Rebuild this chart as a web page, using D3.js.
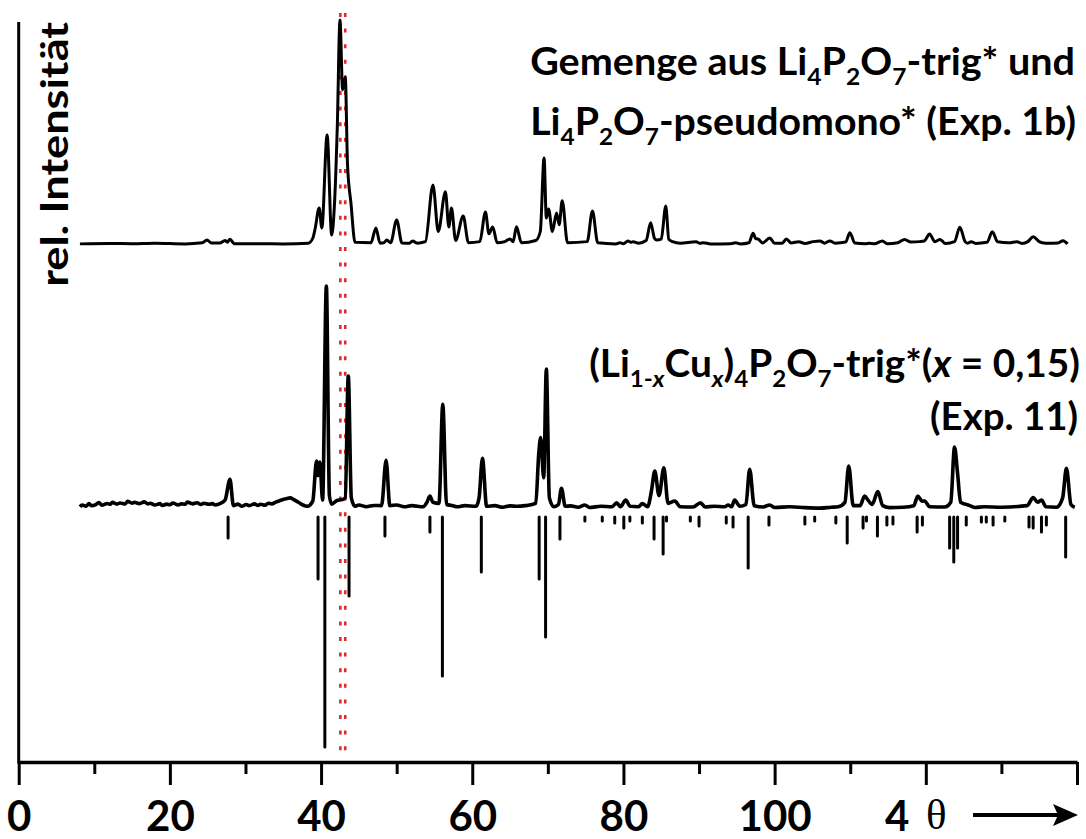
<!DOCTYPE html>
<html>
<head>
<meta charset="utf-8">
<script src="https://cdn.jsdelivr.net/npm/d3@7/dist/d3.min.js"></script>
<style>
  body { margin: 0; background: #fff; }
  text { white-space: pre; }
</style>
</head>
<body>
<script>
// upper pattern: Gemenge Li4P2O7-trig* + pseudomono* (Exp. 1b), [4 theta, rel. intensity]
var upperPattern = [
  [8.1,0.5],[12,0.7],[15,0.6],[18,0.8],[22,0.5],[24.3,1.0],[24.9,2.2],[25.5,0.9],[26.6,0.9],[27.3,2.0],[27.6,1.2],[27.95,2.6],[28.5,0.6],
  [32,0.6],[35,0.5],[38.3,0.8],[38.9,3],[39.2,7],[39.75,16.4],[40.1,7.6],[40.8,48.9],[41.4,4.4],[41.8,20],[42.15,53],[42.5,100],
  [42.85,69],[43.2,74.7],[43.5,35.6],[43.95,18.7],[44.5,1.2],[46.6,1.0],[47.25,7.6],[47.8,0.8],[48.3,1.0],[48.7,2.2],
  [49.2,1.0],[50.0,11.1],[50.7,0.9],[51.7,0.8],[52.1,1.8],[52.7,0.8],[53.8,1.5],[54.8,26.7],[55.5,6],[56.45,23.7],
  [56.9,8],[57.25,16.4],[57.8,2],[58.8,12.9],[59.5,1.0],[61,1.5],[61.75,14.7],[62.2,5],[62.7,8],[63.3,1.0],[64.3,1.5],
  [65.0,2.7],[65.4,1.5],[65.85,8.1],[66.5,1.0],[68.4,2.0],[69.0,6],[69.5,38.7],[69.8,12],[70.1,16],[70.6,6],[71.15,14.2],
  [71.5,9],[71.9,19.7],[72.6,1.0],[75.2,1.5],[75.9,15.1],[76.6,1.0],[79.0,0.5],[79.5,1.0],[80.0,0.6],[80.6,1.8],[81.0,1.2],
  [81.25,1.5],[82,0.8],[83,2],[83.6,9.9],[84.1,3],[84.4,2.2],[85.0,2.6],[85.6,17.3],[86.0,2.5],[86.5,1.5],[87.5,0.8],
  [89.6,1.5],[90.1,0.8],[90.6,1.0],[91.5,0.5],[94.2,0.6],[94.85,1.0],[95.5,0.5],[96.6,1.0],[97.15,5.2],[97.5,2.8],
  [97.8,2.7],[98.4,0.9],[99.35,3.1],[100.0,0.8],[101.0,0.8],[101.55,2.7],[102.2,0.9],[103.2,1.5],[104.0,0.7],[105.1,1.5],
  [106.0,1.8],[106.6,0.8],[107.3,1.8],[108,0.8],[109.4,1.3],[109.95,5.5],[110.6,0.9],[112.0,0.6],[112.5,0.8],[113.2,0.6],
  [114.25,1.8],[114.9,0.6],[116.3,1],[117.2,2.5],[118.0,1.3],[119.2,1.5],[119.8,1.8],[120.5,4.9],[121.2,1.5],[121.9,2.5],
  [122.6,0.7],[123.8,1.5],[124.5,7.9],[125.2,1.5],[125.5,0.8],[126.0,1.5],[126.6,0.7],[128.1,1.2],[128.8,5.9],[129.5,1.4],
  [131,1],[132.05,1.5],[132.7,0.7],[133.5,1.5],[134.2,3.7],[135.0,1.5],[135.6,0.9],[136.15,0.8],[137.5,0.9],[138.15,1.9],
  [138.75,0.5]
];

// lower pattern: (Li1-xCux)4P2O7-trig* x = 0,15 (Exp. 11)
var lowerPattern = [
  [8.1,1.0],[8.4,1.8],[8.9,1.3],[9.3,2.4],[9.6,1.5],[10.2,2.0],[10.6,2.9],[11,1.7],[11.7,2.5],[12.1,2.1],[12.4,3.0],
  [13,2.2],[13.4,2.7],[14.1,2.3],[14.4,3.4],[15,2.6],[15.3,3.0],[16,2.4],[16.6,3.2],[17.1,2.3],[17.4,2.6],[18,1.8],
  [18.7,2.4],[19,1.6],[19.6,2.2],[20,1.9],[20.4,2.7],[21.1,1.8],[21.5,2.3],[22,2.1],[22.3,3.1],[23,2.3],[23.6,2.8],
  [24.1,2.0],[24.5,2.6],[25.2,2.1],[25.6,2.4],[26,1.8],[26.7,2.5],[27.3,4],[27.95,13.3],[28.4,1.5],[29,2.2],[29.5,1.2],
  [30.1,2.0],[30.5,1.5],[31.2,2.3],[31.6,1.6],[32,2.1],[32.6,1.7],[33,2.6],[33.5,2.3],[34,3.1],[34.5,3.7],[35,4.3],
  [35.5,4.7],[35.9,5.0],[36.4,4.2],[37,3.0],[37.6,1.8],[38.2,1.2],[38.9,3.5],[39.4,21.5],[39.6,15],[39.85,21],[40.2,4],
  [40.7,100],[41.1,6],[41.4,2.2],[42.1,3.8],[42.8,4.2],[43.2,5],[43.6,59.6],[44.0,5],[44.5,1.2],[45,1.8],[46,1],[47,1.6],
  [48.0,1.5],[48.6,21.8],[49.1,1.5],[50,1.8],[51,1],[52,1.5],[53.5,1.0],[54.0,3],[54.4,5.8],[54.8,3],[55.6,2.5],
  [56.1,46.9],[56.6,2],[57.3,1.6],[58,1.0],[59,1.5],[60.5,1.2],[60.9,5],[61.35,22.7],[61.9,1.2],[63,1.5],[64,0.8],
  [65,1.4],[66,1.2],[67,1.5],[68.4,2.5],[68.8,25],[69.05,32],[69.45,14],[69.8,62.8],[70.2,5],[70.8,1],[71.4,2],[71.8,9.3],
  [72.3,1.2],[73,1.4],[74.0,0.8],[74.9,1.8],[75.5,0.7],[77,1.2],[78.5,1.0],[79.1,2.8],[79.6,1],[80.3,4.0],[80.9,1.2],
  [82.0,1.0],[82.5,2.4],[83.2,1.0],[83.7,8],[84.15,17],[84.7,6],[85.35,18.5],[85.9,2.5],[86.8,3.6],[87.5,1.0],[89.2,0.9],
  [90.2,2.8],[90.8,0.9],[92,1.2],[93.4,1.0],[93.85,1.8],[94.3,1.0],[94.7,4.0],[95.4,1.2],[96.2,2],[96.7,17.8],[97.3,1.5],
  [98.5,0.9],[99.35,1.8],[100,0.7],[102,1.0],[104.0,0.6],[106.0,0.4],[107.5,0.8],[108.4,1.0],[109.3,3],[109.8,19.3],
  [110.4,1.5],[111.3,1.5],[111.9,5.8],[112.35,4.0],[112.9,2],[113.65,7.8],[114.3,1.5],[115.2,0.6],[117,0.8],[118.4,1.5],
  [118.95,5.8],[119.5,3.5],[119.85,3.6],[120.5,1.0],[122.5,0.9],[123.3,3],[123.8,27.8],[124.2,16],[124.6,3],[125.6,1.8],
  [126.5,0.7],[127.7,1.0],[130,0.8],[133.4,1.5],[134.2,5.1],[134.8,3.0],[135.3,4.0],[135.9,1.0],[137.3,0.8],[138.1,5],
  [138.6,18.3],[139.2,2],[139.7,0.8]
];

// calculated reflections (sticks, drawn downwards)
var stickPos = [27.7,39.6,40.5,43.7,48.45,54.4,56.05,61.2,68.85,69.7,71.6,74.9,77.2,78.85,80.05,80.85,82.5,84.05,85.25,85.7,
  88.85,90.0,93.6,94.5,96.5,99.25,104.0,105.3,108.1,109.6,111.7,112.15,113.6,114.85,115.65,118.85,119.55,123.15,123.7,
  124.2,125.35,127.35,128.0,128.9,130.45,133.65,134.2,135.3,135.95,138.5];
var stickInt = [9.1,27,100,34.3,8.3,6.5,69.1,23.9,27,52.2,9.6,1.7,1.7,2.6,4.8,1.7,2.6,9.6,16.1,1.7,
  1.7,3.9,2.6,4.3,22.2,3.5,3,1.7,2.6,11.3,4.8,1.7,8.3,3.5,3,6.5,3.5,13.5,19.6,
  13.5,3.5,2.2,2.2,3.5,1.7,4.3,4.8,6.5,3.5,17.4];

// red dotted marker lines
var markerLines = [42.55, 43.2];

var xTicks = [0,20,40,60,80,100,120,140];
var xMinorTicks = [10,30,50,70,90,110,130];
var xTickLabels = ["0","20","40","60","80","100","",""];

var width = 1086, height = 839;
var axisY = 762;

var svg = d3.select("body").append("svg")
            .attr("width", width)
            .attr("height", height);

var x = d3.scaleLinear().domain([0, 140]).range([18.7, 1077]);
var yUpper = d3.scaleLinear().domain([0, 100]).range([245, 20]);
var yLower = d3.scaleLinear().domain([0, 100]).range([509, 286]);
var yStick = d3.scaleLinear().domain([0, 100]).range([517, 747]);

// marker lines (behind the patterns)
svg.append("g")
   .selectAll("line")
   .data(markerLines)
   .enter()
   .append("line")
   .attr("x1", function(d) {return x(d);})
   .attr("x2", function(d) {return x(d);})
   .attr("y1", 13)
   .attr("y2", axisY)
   .attr("stroke", "#dd2b2b")
   .attr("stroke-width", 2.6)
   .attr("stroke-dasharray", "4,11.6");

var upperLine = d3.line()
                  .curve(d3.curveMonotoneX)
                  .x(function(d) {return x(d[0]);})
                  .y(function(d) {return yUpper(d[1]);});
var lowerLine = d3.line()
                  .curve(d3.curveMonotoneX)
                  .x(function(d) {return x(d[0]);})
                  .y(function(d) {return yLower(d[1]);});

svg.append("path")
   .attr("d", upperLine(upperPattern))
   .attr("fill", "none")
   .attr("stroke", "black")
   .attr("stroke-width", 3)
   .attr("stroke-linejoin", "round");

svg.append("path")
   .attr("d", lowerLine(lowerPattern))
   .attr("fill", "none")
   .attr("stroke", "black")
   .attr("stroke-width", 3.6)
   .attr("stroke-linejoin", "round");

svg.append("g")
   .selectAll("line")
   .data(stickPos)
   .enter()
   .append("line")
   .attr("x1", function(d) {return x(d);})
   .attr("x2", function(d) {return x(d);})
   .attr("y1", yStick(0))
   .attr("y2", function(d, i) {return yStick(stickInt[i]);})
   .attr("stroke", "black")
   .attr("stroke-width", 3)
   .attr("stroke-linecap", "round");

// axes
var minorAxis = d3.axisBottom(x)
                  .tickValues(xMinorTicks)
                  .tickSize(12)
                  .tickSizeOuter(0)
                  .tickFormat("");
var majorAxis = d3.axisBottom(x)
                  .tickValues(xTicks)
                  .tickSize(23)
                  .tickSizeOuter(0)
                  .tickFormat(function(d, i) {return xTickLabels[i];});

svg.append("g")
   .attr("transform", "translate(0," + axisY + ")")
   .call(minorAxis)
   .call(function(g) {
     g.select(".domain").remove();
     g.selectAll(".tick line").attr("stroke-width", 3);
   });

var gx = svg.append("g")
            .attr("transform", "translate(0," + axisY + ")")
            .call(majorAxis);
gx.select(".domain").attr("stroke-width", 3.5);
gx.selectAll(".tick line").attr("stroke-width", 3);
gx.selectAll(".tick text")
  .attr("y", 69)
  .attr("dy", 0)
  .attr("fill", "black")
  .attr("font-family", "Lato")
  .attr("font-weight", "bold")
  .attr("font-size", 42);

// y axis line
svg.append("line")
   .attr("x1", x(0)).attr("x2", x(0))
   .attr("y1", 22).attr("y2", axisY + 1.5)
   .attr("stroke", "black")
   .attr("stroke-width", 3);

var yLabel = svg.append("text")
                .attr("text-anchor", "end")
                .attr("font-family", "Lato")
                .attr("font-weight", "bold")
                .attr("font-size", 39)
                .text("rel. Intensität");
var yLabelW = yLabel.node().getComputedTextLength();
yLabel.attr("transform", "translate(68,22) rotate(-90) scale(" + (265 / yLabelW) + ",1)");

// x axis name with arrow
svg.append("text")
   .attr("x", 885).attr("y", 831)
   .attr("font-family", "Lato")
   .attr("font-weight", "bold")
   .attr("font-size", 42)
   .text("4");
svg.append("text")
   .attr("x", 926).attr("y", 829)
   .attr("font-family", "Liberation Serif")
   .attr("font-size", 43)
   .text("θ");
svg.append("line")
   .attr("x1", 973).attr("x2", 1058)
   .attr("y1", 815).attr("y2", 815)
   .attr("stroke", "black")
   .attr("stroke-width", 4);
svg.append("path")
   .attr("d", "M1053,804 L1078,815 L1053,826 L1058,815 Z")
   .attr("fill", "black");

// pattern titles with subscripts
var richText = function(parts, xEnd, yBase, size, targetW)
{
  var t = svg.append("text")
             .attr("text-anchor", "end")
             .attr("font-family", "Lato")
             .attr("font-weight", "bold")
             .attr("font-size", size);
  var shift = 0;
  parts.forEach(function(p)
  {
    var want = p.sub ? size * 0.26 : 0;
    var ts = t.append("tspan").text(p.t).attr("dy", want - shift);
    shift = want;
    if (p.sub) ts.attr("font-size", size * 0.62);
    if (p.it) ts.attr("font-style", "italic");
  });
  var w = t.node().getComputedTextLength();
  t.attr("transform", "translate(" + xEnd + "," + yBase + ") scale(" + (targetW / w) + ",1)");
};

richText([{t: "Gemenge aus Li"}, {t: "4", sub: 1}, {t: "P"}, {t: "2", sub: 1}, {t: "O"}, {t: "7", sub: 1},
          {t: "-trig* und"}], 1075, 75, 38, 545);
richText([{t: "Li"}, {t: "4", sub: 1}, {t: "P"}, {t: "2", sub: 1}, {t: "O"}, {t: "7", sub: 1},
          {t: "-pseudomono* (Exp. 1b)"}], 1076, 135, 38, 546);
richText([{t: "(Li"}, {t: "1-", sub: 1}, {t: "x", sub: 1, it: 1}, {t: "Cu"}, {t: "x", sub: 1, it: 1}, {t: ")"},
          {t: "4", sub: 1}, {t: "P"}, {t: "2", sub: 1}, {t: "O"}, {t: "7", sub: 1}, {t: "-trig*("}, {t: "x", it: 1},
          {t: " = 0,15)"}], 1080, 377, 38, 491);
richText([{t: "(Exp. 11)"}], 1078, 430, 38, 148);
</script>
</body>
</html>
